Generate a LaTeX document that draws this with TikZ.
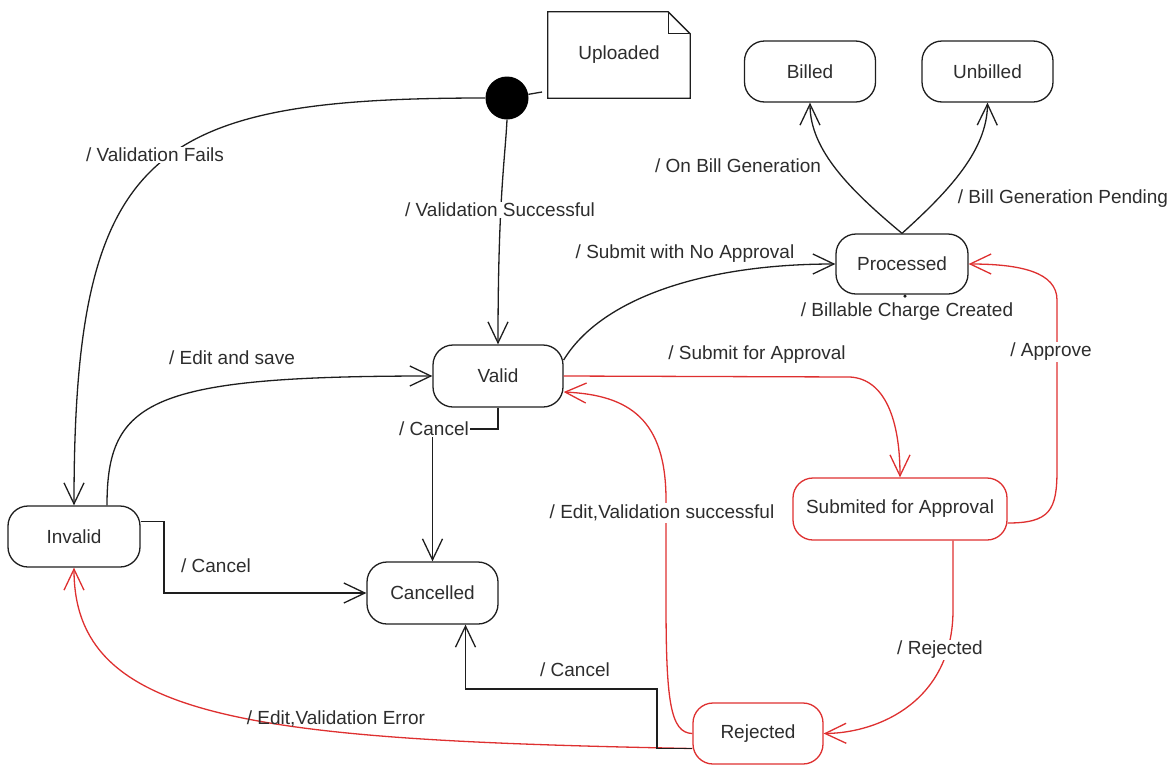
\documentclass[tikz,border=0pt]{standalone}
\usepackage{fontspec}
\setmainfont{Liberation Sans}
\usetikzlibrary{arrows.meta,calc}
\definecolor{rd}{RGB}{222,48,48}
\definecolor{ink}{RGB}{30,30,30}
\definecolor{txt}{RGB}{45,45,45}
\newcommand\fs{\fontsize{19}{22}\selectfont}
\tikzset{
 state/.style={draw=ink, line width=1.3pt, rounded corners=20pt, minimum height=61pt, minimum width=131pt, font=\fs, text=txt, inner sep=0pt},
 rstate/.style={state, draw=rd},
 lbl/.style={font=\fs, text=txt, inner sep=1.5pt},
 wl/.style={lbl, fill=white},
 tr/.style={draw=ink, line width=1.3pt, -{Straight Barb[length=21pt,width=20pt,line width=1.3pt]}},
 rtr/.style={tr, draw=rd},
}
\begin{document}
\begin{tikzpicture}[x=1pt,y=-1pt]
\path[use as bounding box] (0,0) rectangle (1174,766);
% states
\node[state] (billed) at (810,71.5) {Billed};
\node[state] (unbilled) at (987.5,71.5) {Unbilled};
\node[state, minimum width=132pt, minimum height=60pt] (proc) at (902,264) {Processed};
\node[state, minimum width=130pt, minimum height=62pt] (valid) at (498,376) {Valid};
\node[state, minimum width=132pt] (inv) at (74,536.5) {Invalid};
\node[state, minimum height=62pt] (canc) at (432.5,593) {Cancelled};
\node[rstate, minimum width=214pt, minimum height=62pt] (sub) at (900,509) {Submited for Approval};
\node[rstate, minimum width=130pt] (rej) at (758,733.5) {Rejected};
\node[circle, fill=black, minimum size=43pt, inner sep=0pt] (init) at (507,98) {};
% note
\node[minimum width=142pt, minimum height=86pt, font=\fs, text=txt] (upl) at (619,55) {Uploaded};
\draw[ink, line width=1.3pt] (upl.south west) -- (upl.north west) -- ([xshift=-22pt]upl.north east) -- ([yshift=-22pt]upl.north east) -- (upl.south east) -- cycle;
\draw[ink, line width=1.3pt] ([xshift=-22pt]upl.north east) |- ([yshift=-22pt]upl.north east);
\coordinate (nt) at (542,92);
\draw[ink, line width=1.3pt] (init) -- (nt);

% transitions (red first)
\draw[rtr] ([yshift=-15pt]rej.west) .. controls (250,740) and (74,720) .. (inv.south);
\draw[rtr] (valid.east) -- (850,377) .. controls (885,379) and (900,420) .. (sub.north);
\draw[rtr] ([yshift=-14pt]sub.east) .. controls (1050,523) and (1057,510) .. (1057,470) -- (1057,300) .. controls (1057,272) and (1020,264) .. (proc.east);
\draw[rtr] ([xshift=53pt]sub.south) -- (953,610) .. controls (953,700) and (880,733) .. (rej.east);
\draw[rtr] (rej.west) .. controls (670,733) and (666,700) .. (666,600) -- (666,500) .. controls (666,420) and (630,395) .. ([yshift=-16pt]valid.east);

\draw[tr] (init.west) .. controls (150,98) and (74,150) .. (inv.north);
\draw[tr] (init.south) .. controls (505,160) and (498,200) .. (valid.north);
\draw[tr] ([yshift=16pt]valid.east) .. controls (600,300) and (700,264) .. (proc.west);
\draw[tr] (proc.north) .. controls (850,190) and (810,150) .. (billed.south);
\draw[tr] (proc.north) .. controls (950,190) and (987,150) .. (unbilled.south);
\fill[ink] ([xshift=3pt,yshift=-1.5pt]proc.south) circle (1.8pt);
\draw[tr] ([xshift=33pt]inv.north) .. controls (107,400) and (150,376) .. (valid.west);
\draw[tr] ([yshift=15pt]inv.east) -| (164,593) -- (canc.west);
\draw[tr] (valid.south) |- (432.5,429) -- (canc.north);
\draw[tr] ([yshift=-15pt]rej.west) -| (657,689) -| ([xshift=33pt]canc.south);

% labels
\node[wl] (l1) at (155,155) {/ Validation Fails};
\node[wl] (l2) at (500,210) {/ Validation Successful};
\node[lbl] (l3) at (738,166) {/ On Bill Generation};
\node[lbl] (l4) at (1063,199) {/ Bill Generation Pending};
\node[lbl] (l5) at (685,254) {/ Submit with No Approval};
\node[lbl] (l6) at (907,312) {/ Billable Charge Created};
\node[lbl] (l7) at (232,358) {/ Edit and save};
\node[lbl] (l8) at (757,355) {/ Submit for Approval};
\node[wl] (l9) at (1051,352) {/ Approve};
\node[wl] (l10) at (434,429) {/ Cancel};
\node[wl] (l11) at (662,513) {/ Edit,Validation successful};
\node[lbl] (l12) at (216,566) {/ Cancel};
\node[wl] (l13) at (940,650) {/ Rejected};
\node[lbl] (l14) at (575,670) {/ Cancel};
\node[lbl] (l15) at (336,719) {/ Edit,Validation Error};
\end{tikzpicture}
\end{document}
